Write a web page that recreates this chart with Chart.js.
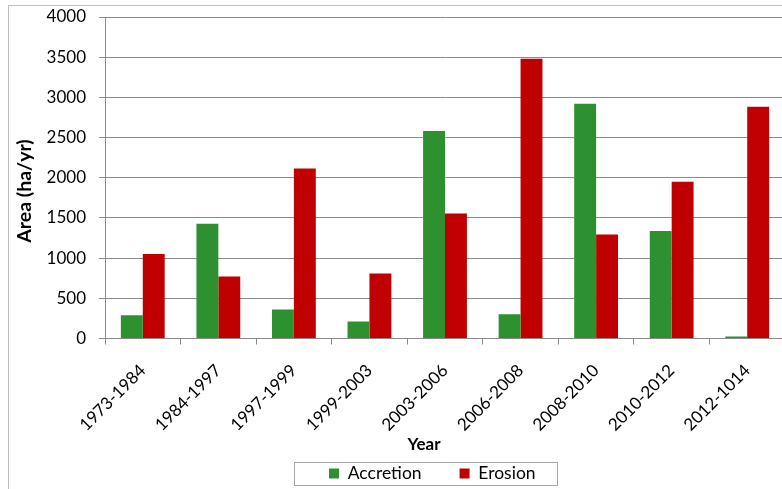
<!DOCTYPE html>
<html>
<head>
<meta charset="utf-8">
<script src="https://cdn.jsdelivr.net/npm/chart.js@4.4.1/dist/chart.umd.min.js"></script>
<style>
  html, body { margin: 0; padding: 0; background: #ffffff; overflow: hidden; }
  #frame { position: absolute; left: 8px; top: 5px; width: 832px; height: 490px; border: 1px solid #bfbfbf; }
  canvas { display: block; }
</style>
</head>
<body>
<div id="frame"><canvas id="chart" width="832" height="490"></canvas></div>
<script>
// Annual shoreline change per period (ha/yr)
const periods = ['1973-1984', '1984-1997', '1997-1999', '1999-2003', '2003-2006',
                 '2006-2008', '2008-2010', '2010-2012', '2012-1014'];
const accretion = [290, 1427, 361, 212, 2581, 303, 2921, 1336, 25];
const erosion = [1050, 772, 2116, 809, 1556, 3481, 1295, 1950, 2884];
const yTicks = [0, 500, 1000, 1500, 2000, 2500, 3000, 3500, 4000];

const FONT = 'Lato, "Open Sans", "DejaVu Sans", sans-serif';
const GRID = '#8a8a8a';
const TICK_FONT = 17;
const LEGEND_FONT = 17.5;
const LEGEND_X = 320;      // left edge of the first legend swatch
const LEGEND_Y = 467.5;    // vertical centre of the legend row

// Places the legend row, then draws the axis titles and the legend frame
const annotations = {
  id: 'annotations',
  afterLayout(chart) {
    const lg = chart.legend;
    if (!lg || !lg.lineWidths) return;
    const pad = lg.options.labels.padding;
    const start = (lg.left + pad + lg.right - lg.lineWidths[0]) / 2;
    const dx = LEGEND_X - start;
    lg.left += dx; lg.right += dx;
    const dy = LEGEND_Y - (lg.top + pad + LEGEND_FONT / 2);
    lg.top += dy; lg.bottom += dy;
  },
  afterDraw(chart) {
    const ctx = chart.ctx;
    ctx.save();
    ctx.fillStyle = '#000000';
    ctx.font = 'bold 19.5px ' + FONT;
    ctx.textAlign = 'center';
    ctx.textBaseline = 'middle';
    ctx.translate(16, 185);
    ctx.rotate(-Math.PI / 2);
    ctx.fillText('Area (ha/yr)', 0, 0);
    ctx.restore();

    ctx.save();
    ctx.fillStyle = '#000000';
    ctx.font = 'bold 17px ' + FONT;
    ctx.textAlign = 'center';
    ctx.textBaseline = 'middle';
    ctx.fillText('Year', 415, 439);
    ctx.restore();

    const x0 = LEGEND_X - 35;
    ctx.save();
    ctx.strokeStyle = '#a6a6a6';
    ctx.lineWidth = 1;
    ctx.strokeRect(Math.round(x0) + 0.5, Math.round(LEGEND_Y - 11.5) + 0.5, 263, 23);
    ctx.restore();
  }
};

new Chart(document.getElementById('chart'), {
  type: 'bar',
  data: {
    labels: periods,
    datasets: [
      { label: 'Accretion', data: accretion, backgroundColor: '#2e9130', borderWidth: 0 },
      { label: 'Erosion', data: erosion, backgroundColor: '#c00000', borderWidth: 0 }
    ]
  },
  options: {
    responsive: false,
    animation: false,
    events: [],
    categoryPercentage: 0.58,
    barPercentage: 1.0,
    layout: { padding: { left: 0, right: 56, top: 11, bottom: -34 } },
    plugins: {
      tooltip: { enabled: false },
      legend: {
        position: 'bottom',
        labels: {
          font: { family: FONT, size: LEGEND_FONT },
          color: '#000000',
          boxWidth: 10,
          boxHeight: 10,
          padding: 38
        }
      }
    },
    scales: {
      x: {
        afterFit(scale) { scale.height = 126; scale.paddingLeft = 0; scale.paddingRight = 0; },
        grid: { drawOnChartArea: false, drawTicks: true, tickLength: 6, color: GRID, offset: true },
        border: { color: GRID, width: 1 },
        ticks: {
          font: { family: FONT, size: TICK_FONT },
          color: '#000000',
          minRotation: 45,
          maxRotation: 45,
          padding: 16,
          autoSkip: false
        }
      },
      y: {
        min: 0,
        max: 4000,
        afterFit(scale) { scale.width = 96; scale.paddingTop = 0; scale.paddingBottom = 0; },
        afterBuildTicks(scale) { scale.ticks = yTicks.map(v => ({ value: v })); },
        grid: { color: GRID, lineWidth: 1, drawTicks: true, tickLength: 6 },
        border: { color: GRID, width: 1 },
        ticks: {
          font: { family: FONT, size: TICK_FONT },
          color: '#000000',
          padding: 13,
          callback: (v) => String(v)
        }
      }
    }
  },
  plugins: [annotations]
});
</script>
</body>
</html>
